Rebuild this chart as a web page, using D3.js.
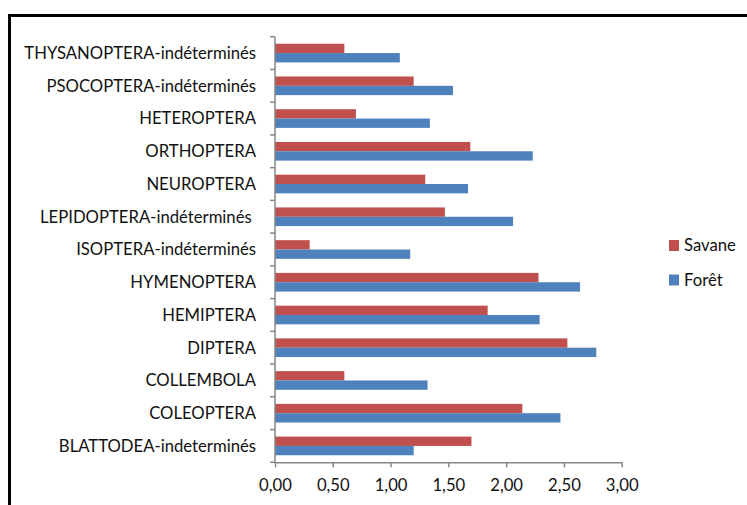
<!DOCTYPE html>
<html>
<head>
<meta charset="utf-8">
<script src="https://cdn.jsdelivr.net/npm/d3@7"></script>
<style>
  body { margin: 0; background: #fff; }
  svg text { font-family: Lato, sans-serif; fill: #111; }
</style>
</head>
<body>
<div id="chart"></div>
<script>
// categories, bottom to top as in the spreadsheet
const categories = [
  "BLATTODEA-indeterminés",
  "COLEOPTERA",
  "COLLEMBOLA",
  "DIPTERA",
  "HEMIPTERA",
  "HYMENOPTERA",
  "ISOPTERA-indéterminés",
  "LEPIDOPTERA-indéterminés ",
  "NEUROPTERA",
  "ORTHOPTERA",
  "HETEROPTERA",
  "PSOCOPTERA-indéterminés",
  "THYSANOPTERA-indéterminés"
];
const series = ["Savane", "Forêt"];
const savane = [1.70, 2.14, 0.60, 2.53, 1.84, 2.28, 0.30, 1.47, 1.30, 1.69, 0.70, 1.20, 0.60];
const foret  = [1.20, 2.47, 1.32, 2.78, 2.29, 2.64, 1.17, 2.06, 1.67, 2.23, 1.34, 1.54, 1.08];
const xTicks = [0, 0.5, 1, 1.5, 2, 2.5, 3];
const colors = { "Savane": "#C0504D", "Forêt": "#4F81BD" };

const W = 747, H = 505;
const plot = { left: 275, right: 621.7, top: 36.7, bottom: 462.3 };
const axisColor = "#868686";
const fontSize = 16.7;

const svg = d3.select("#chart").append("svg")
  .attr("width", W).attr("height", H);

// outer frame (continues past the picture edges)
svg.append("rect")
  .attr("x", 9.5).attr("y", 15.5)
  .attr("width", W + 20).attr("height", H + 20)
  .attr("fill", "none").attr("stroke", "#000").attr("stroke-width", 3);

const rows = categories.map((c, i) => ({ cat: c, Savane: savane[i], "Forêt": foret[i] }));

const x = d3.scaleLinear().domain([0, 3]).range([plot.left, plot.right]);
const y = d3.scaleBand()
  .domain(categories.slice().reverse())
  .range([plot.top, plot.bottom])
  .paddingInner(0.43).paddingOuter(0.215);
const ySub = d3.scaleBand().domain(series).range([0, y.bandwidth()]);

// bars
const groups = svg.append("g").selectAll("g")
  .data(rows).enter().append("g")
  .attr("transform", d => `translate(0,${y(d.cat)})`);

groups.selectAll("rect")
  .data(d => series.map(s => ({ s, v: d[s] })))
  .enter().append("rect")
  .attr("x", x(0))
  .attr("y", d => ySub(d.s))
  .attr("width", d => x(d.v) - x(0))
  .attr("height", ySub.bandwidth())
  .attr("fill", d => colors[d.s]);

// x axis
const fr = d3.formatLocale({ decimal: ",", thousands: " ", grouping: [3], currency: ["", "€"] });
const xAxis = d3.axisBottom(x).tickValues(xTicks).tickFormat(fr.format(".2f")).tickSize(5).tickSizeOuter(0);
const gx = svg.append("g").attr("transform", `translate(0,${plot.bottom})`).call(xAxis);
gx.select(".domain").attr("stroke", axisColor).attr("stroke-width", 1.5);
gx.selectAll(".tick line").attr("stroke", axisColor).attr("stroke-width", 1.5);
gx.selectAll("text").attr("font-size", fontSize).attr("y", 17).attr("dy", "0.71em")
  .style("font-family", "Lato, sans-serif").attr("fill", "#111");

// category axis with ticks between categories
const step = y.step();
const gy = svg.append("g");
gy.append("line")
  .attr("x1", plot.left).attr("x2", plot.left)
  .attr("y1", plot.top).attr("y2", plot.bottom)
  .attr("stroke", axisColor).attr("stroke-width", 1.5);
gy.selectAll(".tk")
  .data(d3.range(categories.length + 1))
  .enter().append("line")
  .attr("x1", plot.left - 5).attr("x2", plot.left)
  .attr("y1", i => plot.top + i * step).attr("y2", i => plot.top + i * step)
  .attr("stroke", axisColor).attr("stroke-width", 1.5);
gy.selectAll("text")
  .data(categories)
  .enter().append("text")
  .attr("x", plot.left - 19)
  .attr("y", d => y(d) + y.bandwidth() / 2)
  .attr("dy", "0.35em")
  .attr("text-anchor", "end")
  .attr("font-size", fontSize)
  .style("white-space", "pre")
  .text(d => d);

// legend
const legend = svg.append("g").attr("transform", "translate(669,240)");
series.forEach((s, i) => {
  const g = legend.append("g").attr("transform", `translate(0,${i * 34.5})`);
  g.append("rect").attr("width", 10).attr("height", 11).attr("fill", colors[s]);
  g.append("text").attr("x", 15).attr("y", 5.5).attr("dy", "0.35em")
    .attr("font-size", fontSize).text(s);
});
</script>
</body>
</html>
